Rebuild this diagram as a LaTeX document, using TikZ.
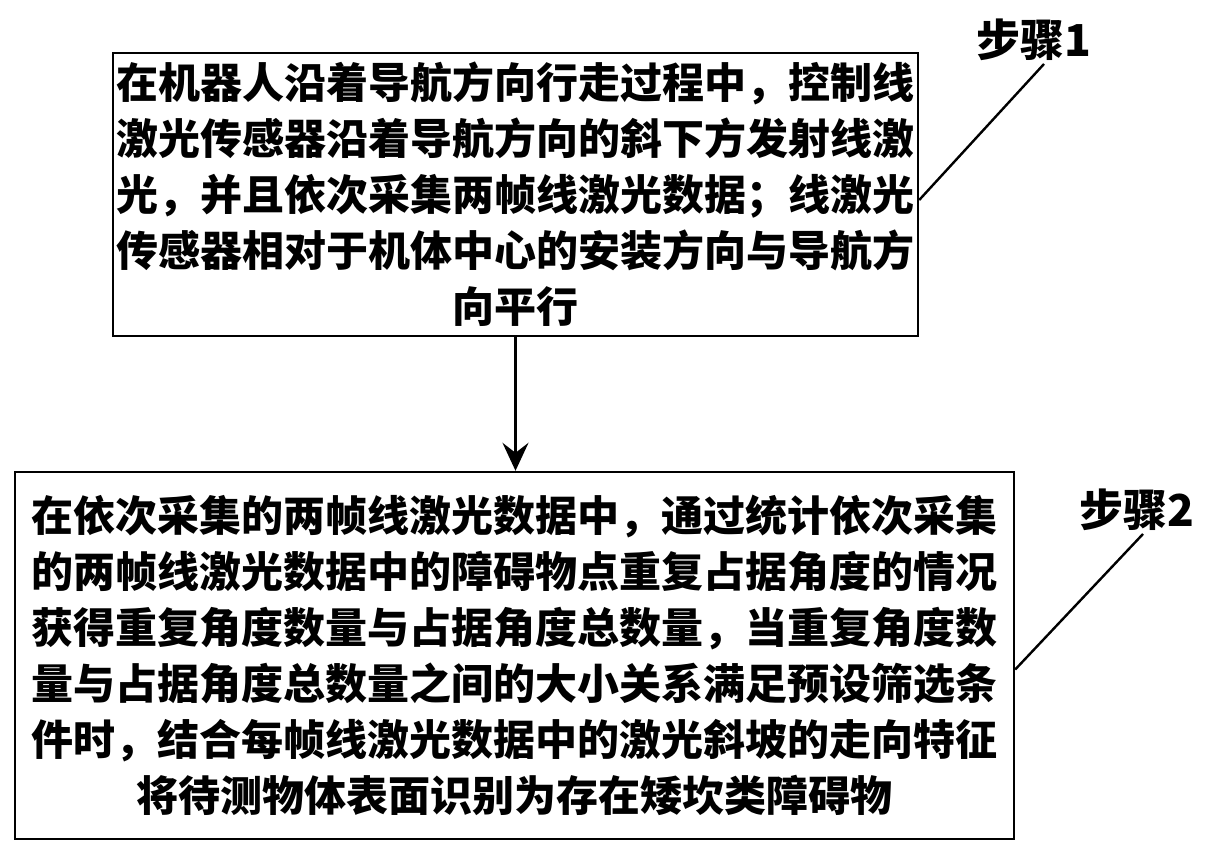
\documentclass[tikz,border=0pt]{standalone}
\usepackage{fontspec}
\newfontfamily\cjk{Noto Sans CJK SC}
\usetikzlibrary{arrows.meta}
\tikzstyle{stepbox}=[rectangle,draw,line width=1.2pt,align=center,inner sep=0pt,font=\cjk\bfseries\fontsize{21}{28}\selectfont]
\tikzstyle{steplabel}=[font=\cjk\bfseries\fontsize{22}{26}\selectfont]

\begin{document}
\begin{tikzpicture}[x=0.5pt,y=-0.5pt]
		\useasboundingbox (0,0) rectangle (1211,856);
		\node[stepbox,minimum width=402.5pt,minimum height=141.5pt] (s1) at (515.5,194.5) {在机器人沿着导航方向行走过程中，控制线\\激光传感器沿着导航方向的斜下方发射线激\\光，并且依次采集两帧线激光数据；线激光\\传感器相对于机体中心的安装方向与导航方\\向平行};
		\node[stepbox,minimum width=499.5pt,minimum height=183.5pt] (s2) at (514.5,655.5) {在依次采集的两帧线激光数据中，通过统计依次采集\\的两帧线激光数据中的障碍物点重复占据角度的情况\\获得重复角度数量与占据角度总数量，当重复角度数\\量与占据角度总数量之间的大小关系满足预设筛选条\\件时，结合每帧线激光数据中的激光斜坡的走向特征\\将待测物体表面识别为存在矮坎类障碍物};

		\node[steplabel] (lab1) at (1034,40) {步骤1};
		\node[steplabel] (lab2) at (1137,510) {步骤2};

		\draw[line width=1.2pt,-{Stealth[length=14pt,width=13pt,inset=5pt]}] (s1.south) -- (s1.south |- s2.north);
		\draw[line width=1.2pt] ([yshift=-2.75pt]s1.east) -- ([xshift=5pt,yshift=2pt]lab1.south);
		\draw[line width=1.2pt] ([yshift=-7pt]s2.east) -- ([xshift=3pt,yshift=2pt]lab2.south);
	\end{tikzpicture}
\end{document}
